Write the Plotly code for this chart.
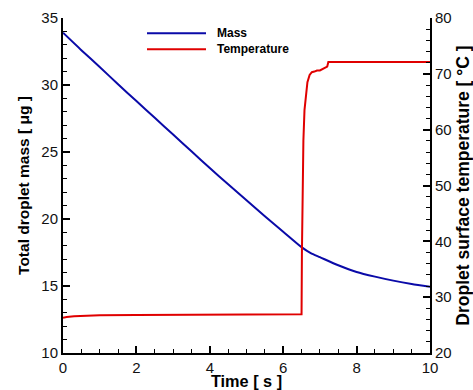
import plotly.graph_objects as go

# ---- data ----
t_mass = [0, 0.5, 1, 1.5, 2, 2.5, 3, 3.5, 4, 4.5, 5, 5.5, 6, 6.5, 6.75, 7, 7.5, 8, 8.5, 9, 9.5, 10]
mass = [33.9, 32.6, 31.35, 30.05, 28.8, 27.55, 26.3, 25.05, 23.8, 22.6, 21.4, 20.2, 19.05, 17.9, 17.45, 17.15,
        16.55, 16.05, 15.7, 15.4, 15.15, 14.95]

t_temp = [0, 0.1, 0.3, 0.6, 1, 2, 3, 4, 5, 6, 6.5, 6.51, 6.53, 6.55, 6.58, 6.62, 6.66, 6.72, 6.78, 6.85,
          6.92, 7.0, 7.07, 7.12, 7.18, 7.2, 7.23, 8, 9, 10]
temp = [26.3, 26.45, 26.6, 26.7, 26.75, 26.8, 26.85, 26.87, 26.9, 26.92, 26.93, 38, 50, 58, 63.5, 66.5, 68.5,
        69.8, 70.3, 70.4, 70.6, 70.6, 70.8, 71.0, 71.2, 71.3, 72.1, 72.1, 72.1, 72.1]

series_names = ["Mass", "Temperature"]
colors = ["#0a0aa8", "#e00000"]

FONT = "Arial, Liberation Sans, sans-serif"

fig = go.Figure()
fig.add_trace(go.Scatter(x=t_mass, y=mass, mode="lines", name=series_names[0],
                         line=dict(color=colors[0], width=2, shape="spline", smoothing=0.6)))
fig.add_trace(go.Scatter(x=t_temp, y=temp, mode="lines", name=series_names[1], yaxis="y2",
                         line=dict(color=colors[1], width=2)))

W, H = 473, 390
L, R, T, B = 63, 43, 18, 37
pw, ph = W - L - R, H - T - B

def px(x):
    return (x - L) / pw

def py(y):
    return (H - B - y) / ph

# manual legend
for i, (name, col) in enumerate(zip(series_names, colors)):
    yy = 33.3 + 16 * i
    fig.add_shape(type="line", xref="paper", yref="paper", x0=px(147), x1=px(206), y0=py(yy), y1=py(yy),
                  line=dict(color=col, width=2))
    fig.add_annotation(xref="paper", yref="paper", x=px(215), y=py(yy), text="<b>%s</b>" % name,
                       showarrow=False, xanchor="left", yanchor="middle",
                       font=dict(family=FONT, size=12, color="black"))

axis_common = dict(showline=True, linecolor="black", linewidth=2, ticks="inside", ticklen=7, tickwidth=1.5,
                   tickcolor="black", showgrid=False, zeroline=False, automargin=False,
                   tickfont=dict(family=FONT, size=15, color="#111"))

fig.update_layout(
    width=W, height=H, margin=dict(l=L, r=R, t=T, b=B),
    paper_bgcolor="white", plot_bgcolor="white", showlegend=False,
    xaxis=dict(range=[0, 10], dtick=2, tick0=0,
               minor=dict(dtick=0.5, ticks="inside", ticklen=4, tickcolor="black", tickwidth=1),
               title=dict(text="<b>Time [ s ]</b>", font=dict(family=FONT, size=16.3, color="black"), standoff=2),
               **axis_common),
    yaxis=dict(range=[10, 35], dtick=5, tick0=10,
               minor=dict(dtick=1, ticks="inside", ticklen=4, tickcolor="black", tickwidth=1),
               title=dict(text="<b>Total droplet mass [ μg ]</b>",
                          font=dict(family=FONT, size=15.5, color="black"), standoff=8),
               **axis_common),
    yaxis2=dict(range=[20, 80], dtick=10, tick0=20, overlaying="y", side="right", anchor="x",
                minor=dict(dtick=2, ticks="inside", ticklen=4, tickcolor="black", tickwidth=1),
                title=dict(text="<b>Droplet surface temperature [ °C ]</b>",
                           font=dict(family=FONT, size=17.5, color="black"), standoff=6),
                **axis_common),
)

fig.write_html("out.html")
